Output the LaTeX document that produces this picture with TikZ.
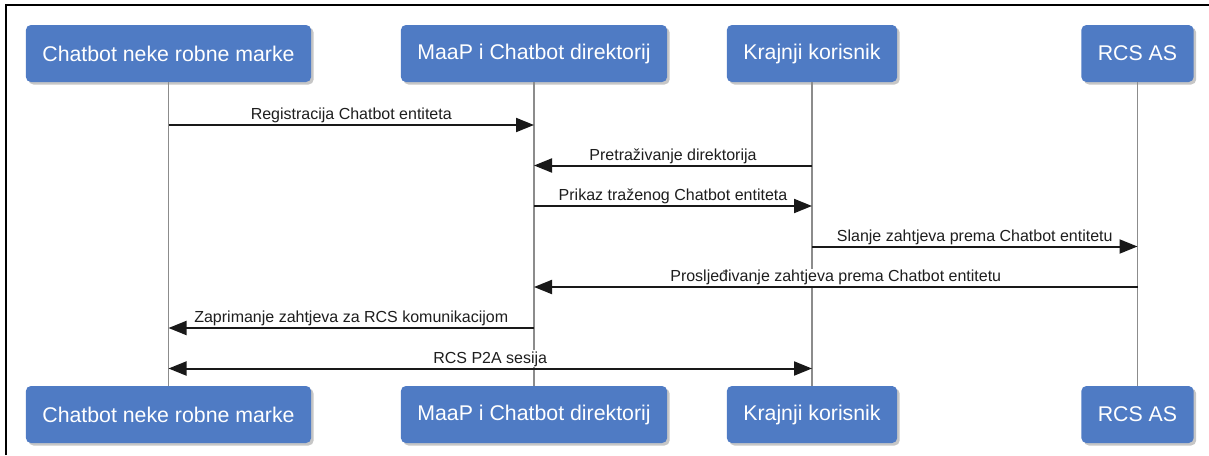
\documentclass[tikz,border=0pt]{standalone}
\usepackage{fontspec}
\setmainfont{Liberation Sans}
\usepackage{tikz}
\usetikzlibrary{arrows.meta, shadows}
\definecolor{actorblue}{RGB}{79,123,196}
\definecolor{lifegray}{RGB}{140,140,140}
\definecolor{msgtext}{RGB}{30,30,30}

\begin{document}
\begin{tikzpicture}[x=1pt, y=-1pt,
  actor/.style={fill=actorblue, rounded corners=5pt, text=white, minimum height=57pt, inner xsep=16.5pt,
    font=\fontsize{21.3}{25}\selectfont, drop shadow={shadow xshift=2.5pt, shadow yshift=-2.5pt, opacity=0.45}},
  lifeline/.style={draw=lifegray, line width=1.5pt},
  msg/.style={draw=black!90, line width=2pt, -{Triangle[length=18pt, width=14pt]}},
  msgboth/.style={msg, {Triangle[length=18pt, width=14pt]}-{Triangle[length=18pt, width=14pt]}},
  msglabel/.style={midway, anchor=base, yshift=5.5pt, fill=white, inner sep=1pt, text=msgtext,
    font=\fontsize{16}{19}\selectfont}]
\useasboundingbox (0,0) rectangle (1209,455);
\draw[line width=2pt] (6,455) -- (6,5) -- (1209,5);

% Participants (top)
\node[actor] (brandtop) at (168.5,53.5) {Chatbot neke robne marke};
\node[actor] (maaptop) at (534,53.5) {MaaP i Chatbot direktorij};
\node[actor] (usertop) at (812,53.5) {Krajnji korisnik};
\node[actor] (rcstop) at (1137.5,53.5) {RCS AS};

% Participants (bottom)
\node[actor] (brandbot) at (168.5,414.5) {Chatbot neke robne marke};
\node[actor] (maapbot) at (534,414.5) {MaaP i Chatbot direktorij};
\node[actor] (userbot) at (812,414.5) {Krajnji korisnik};
\node[actor] (rcsbot) at (1137.5,414.5) {RCS AS};

% Lifelines
\draw[lifeline] (brandtop) -- (brandbot);
\draw[lifeline] (maaptop) -- (maapbot);
\draw[lifeline] (usertop) -- (userbot);
\draw[lifeline] (rcstop) -- (rcsbot);

% Message rows
\coordinate (m1) at (0,125);
\coordinate (m2) at (0,165.5);
\coordinate (m3) at (0,206);
\coordinate (m4) at (0,246.5);
\coordinate (m5) at (0,287);
\coordinate (m6) at (0,328);
\coordinate (m7) at (0,368.5);

% Messages
\draw[msg] (brandtop |- m1) -- node[msglabel] {Registracija Chatbot entiteta} (maaptop |- m1);
\draw[msg] (usertop |- m2) -- node[msglabel] {Pretraživanje direktorija} (maaptop |- m2);
\draw[msg] (maaptop |- m3) -- node[msglabel] {Prikaz traženog Chatbot entiteta} (usertop |- m3);
\draw[msg] (usertop |- m4) -- node[msglabel] {Slanje zahtjeva prema Chatbot entitetu} (rcstop |- m4);
\draw[msg] (rcstop |- m5) -- node[msglabel] {Prosljeđivanje zahtjeva prema Chatbot entitetu} (maaptop |- m5);
\draw[msg] (maaptop |- m6) -- node[msglabel] {Zaprimanje zahtjeva za RCS komunikacijom} (brandtop |- m6);
\draw[msgboth] (brandtop |- m7) -- node[msglabel] {RCS P2A sesija} (usertop |- m7);

\end{tikzpicture}
\end{document}
